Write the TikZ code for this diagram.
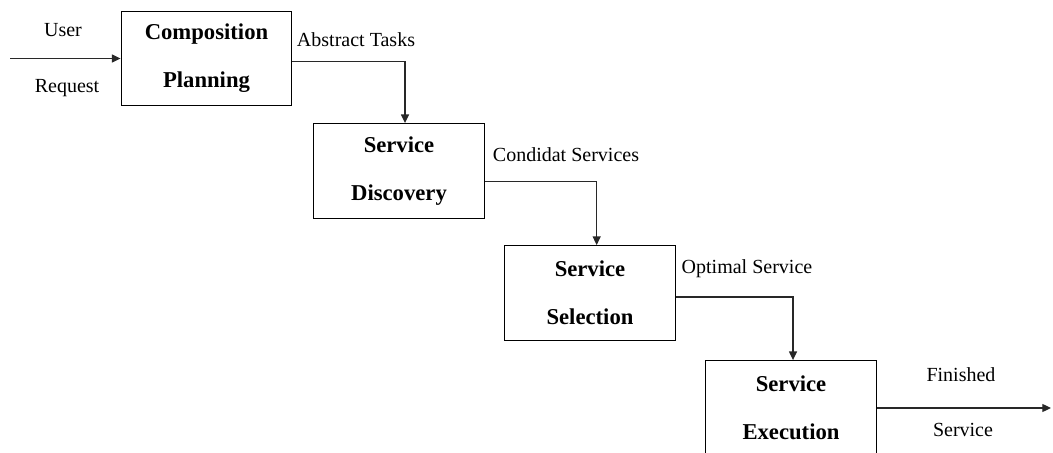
\documentclass[tikz,border=0pt]{standalone}
\usepackage{fontspec}
\setmainfont{Liberation Serif}
\usetikzlibrary{arrows.meta,positioning,calc}
\definecolor{FlowLine}{RGB}{40,40,40}
\tikzset{
  etapa/.style={draw=black, fill=white, line width=0.9pt, align=center,
                font=\bfseries\fontsize{17}{36}\selectfont,
                minimum width=128pt, minimum height=71pt, inner sep=0pt},
  fluxo/.style={-{Triangle[length=6.5pt, width=6pt]}, line width=0.9pt, FlowLine},
  rotulo/.style={font=\fontsize{15}{18}\selectfont, align=center},
}

\begin{document}
\begin{tikzpicture}[x=0.75pt, y=-0.75pt]
  \useasboundingbox (0,0) rectangle (1053,453);
  \clip (0,0) rectangle (1053,453);

  % ------------------------------------------------------------------ etapas
  \node[etapa] (plan) at (206.5,58.5) {Composition\\Planning};
  \node[etapa] (disc) at (399,171)    {Service\\Discovery};
  \node[etapa] (sel)  at (590,293)    {Service\\Selection};
  \node[etapa] (exec) at (791,408)    {Service\\Execution};

  % ------------------------------------------------------------------ entrada / saida
  \coordinate (in)  at (10,58.5);
  \coordinate (out) at (1051,408);

  % ------------------------------------------------------------------ conectores
  \draw[fluxo] (in) -- (plan.west);
  \draw[fluxo] ([yshift=-2pt]plan.east) -| ([xshift=4.5pt]disc.north);
  \draw[fluxo] ([yshift=-8pt]disc.east) -| ([xshift=5pt]sel.north);
  \draw[fluxo] ([yshift=-3pt]sel.east) -| ([xshift=1.5pt]exec.north);
  \draw[fluxo] (exec.east) -- (out);

  % ------------------------------------------------------------------ rotulos
  \node[rotulo] (user)  at (63,30)   {User};
  \node[rotulo] (req)   at (67,88)   {Request};
  \node[rotulo] (abs)   at (356,40)  {Abstract Tasks};
  \node[rotulo] (cand)  at (566,155) {Condidat Services};
  \node[rotulo] (opt)   at (747,269) {Optimal Service};
  \node[rotulo] (fin)   at (961,375) {Finished};
  \node[rotulo] (serv)  at (963,430) {Service};
\end{tikzpicture}
\end{document}
